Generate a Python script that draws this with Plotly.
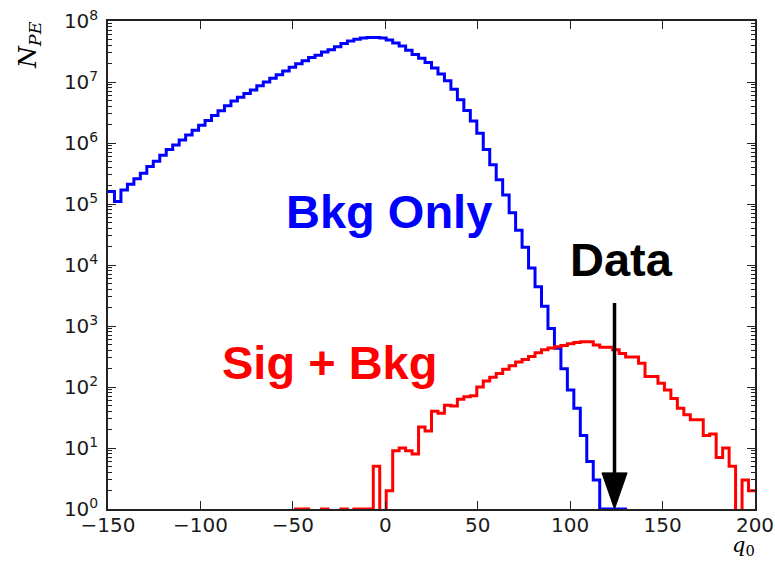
import numpy as np
import plotly.graph_objects as go

# ---------------- data ----------------
q0_min, q0_max, n_bins = -150, 200, 100
bin_edges = np.linspace(q0_min, q0_max, n_bins + 1)

bkg_only = [
    1.6e5, 1.1e5, 1.7e5, 2.1e5, 2.6e5, 3.2e5, 4.1e5, 5.0e5, 6.3e5, 7.8e5,
    9.3e5, 1.12e6, 1.35e6, 1.62e6, 1.95e6, 2.34e6, 2.82e6, 3.39e6, 4.07e6, 4.9e6,
    5.6e6, 6.5e6, 7.4e6, 8.7e6, 1.0e7, 1.15e7, 1.32e7, 1.51e7, 1.74e7, 2.0e7,
    2.24e7, 2.51e7, 2.75e7, 3.09e7, 3.39e7, 3.8e7, 4.27e7, 4.68e7, 5.0e7, 5.25e7,
    5.37e7, 5.37e7, 5.25e7, 4.9e7, 4.37e7, 3.89e7, 3.31e7, 2.82e7, 2.45e7, 2.09e7,
    1.7e7, 1.35e7, 1.05e7, 7.6e6, 5.1e6, 3.4e6, 2.3e6, 1.45e6, 7.8e5, 4.4e5,
    2.5e5, 1.4e5, 7.2e4, 3.7e4, 1.95e4, 8.9e3, 4.4e3, 2.1e3, 910, 430,
    200, 89, 45, 16, 6, 3, 1, 1, 1, 1,
    0, 0, 0, 0, 0, 0, 0, 0, 0, 0,
    0, 0, 0, 0, 0, 0, 0, 0, 0, 0,
]

sig_bkg = (
    [0] * 29
    + [1, 1, 0, 0, 1, 0, 0, 1, 0, 1, 1, 1]
    + [5, 0, 2, 9, 10, 9, 8, 22, 19, 40, 37, 50, 49, 63, 69, 72, 100, 126, 145,
       166, 195, 224, 257, 282, 316, 363, 407, 437, 457, 479, 513, 537, 550, 550,
       490, 447, 447, 407, 355, 309, 309, 245, 148, 148, 115, 89, 65, 45, 35, 29,
       29, 16, 17, 7, 10, 5, 0, 3, 2]
)

data_q0 = 124

x_tick_vals = [-150, -100, -50, 0, 50, 100, 150, 200]
y_tick_vals = [10 ** e for e in range(0, 9)]
y_tick_text = ["10<sup>%d</sup>" % e for e in range(0, 9)]
y_minor_vals = [m * 10 ** e for e in range(0, 8) for m in range(2, 10)]

assert len(bkg_only) == n_bins and len(sig_bkg) == n_bins


def step_xy(counts):
    # empty bins are pushed below the axis floor (clipped, like a log histogram)
    y = [c if c > 0 else 1e-3 for c in counts]
    return list(bin_edges), y + [y[-1]]


fig = go.Figure()
for counts, color in [(bkg_only, "#0000ff"), (sig_bkg, "#ff0000")]:
    xs, ys = step_xy(counts)
    fig.add_trace(go.Scatter(x=xs, y=ys, mode="lines", line_shape="hv",
                             line=dict(color=color, width=3), hoverinfo="skip"))

tick_font = dict(family="DejaVu Sans", size=20, color="#1a1a1a")
axis_common = dict(showline=True, linecolor="#222222", linewidth=1.5, mirror="ticks",
                   ticks="inside", ticklen=8, tickwidth=1, tickcolor="#222222",
                   showgrid=False, zeroline=False, tickfont=tick_font,
                   automargin=False)

fig.update_xaxes(range=[q0_min, q0_max], tickmode="array", tickvals=x_tick_vals,
                 ticklabelstandoff=-3, **axis_common)
fig.update_yaxes(type="log", range=[0, 8], tickmode="array", tickvals=y_tick_vals,
                 ticktext=y_tick_text, ticklabelstandoff=4,
                 minor=dict(tickmode="array", tickvals=y_minor_vals, ticks="inside",
                            ticklen=4, tickcolor="#222222", showgrid=False),
                 **axis_common)

# Data arrow (x in data units, y in paper units)
fig.add_shape(type="line", xref="x", yref="paper", x0=data_q0, x1=data_q0,
              y0=0.07, y1=0.422, line=dict(color="black", width=3.5))
fig.add_shape(type="path", xref="x", yref="paper",
              path="M %f,0.074 L %f,0.074 L %f,0 Z" % (data_q0 - 6.8, data_q0 + 6.8, data_q0),
              fillcolor="black", line=dict(color="black", width=1))

label_font = "Liberation Sans, Arial, sans-serif"
annots = [
    dict(text="<b>Bkg Only</b>", x=0.434, y=0.609, color="#0000ff"),
    dict(text="<b>Data</b>", x=0.793, y=0.512, color="black"),
    dict(text="<b>Sig + Bkg</b>", x=0.342, y=0.301, color="#ff0000"),
]
for a in annots:
    fig.add_annotation(text=a["text"], x=a["x"], y=a["y"], xref="paper", yref="paper",
                       xanchor="center", yanchor="middle", showarrow=False,
                       font=dict(family=label_font, size=47, color=a["color"]))

fig.add_annotation(text="<i>N</i><sub><i>PE</i></sub>", textangle=-90,
                   x=(29 - 108) / 647, y=(509 - 45) / 488, xref="paper", yref="paper",
                   xanchor="center", yanchor="middle", showarrow=False,
                   font=dict(family="DejaVu Serif", size=25, color="black"))
fig.add_annotation(text="<i>q</i><sub>0</sub>", x=(743 - 108) / 647, y=(509 - 546) / 488,
                   xref="paper", yref="paper", xanchor="center", yanchor="middle",
                   showarrow=False,
                   font=dict(family="DejaVu Serif", size=21, color="black"))

fig.update_layout(width=775, height=564, margin=dict(l=108, r=20, t=21, b=55),
                  plot_bgcolor="white", paper_bgcolor="white", showlegend=False)

fig.write_html("out.html", config={"displayModeBar": False},
               post_script="document.body.style.margin='0';"
                           "document.body.style.overflow='hidden';")
